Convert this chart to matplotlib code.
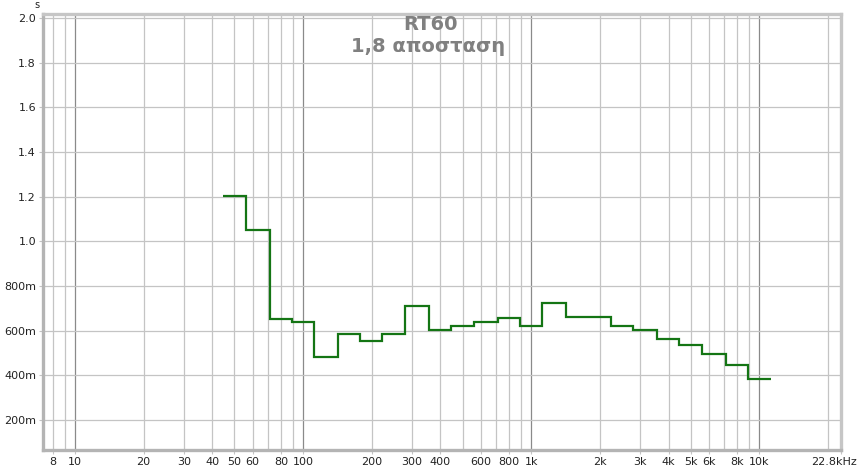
import numpy as np
import matplotlib
matplotlib.use("Agg")
import matplotlib.pyplot as plt
import matplotlib.transforms as mtransforms
from matplotlib.ticker import FixedLocator, NullLocator

# third-octave band centres (Hz) and RT60 values (s)
band_centres = [50, 63, 80, 100, 125, 160, 200, 250, 315, 400, 500, 630,
                800, 1000, 1250, 1600, 2000, 2500, 3150, 4000, 5000, 6300,
                8000, 10000]
rt60 = [1.205, 1.051, 0.652, 0.640, 0.483, 0.586, 0.555, 0.586, 0.712,
        0.603, 0.619, 0.637, 0.657, 0.622, 0.725, 0.663, 0.663, 0.622,
        0.603, 0.563, 0.537, 0.497, 0.448, 0.385]

x_ticks = [8, 10, 20, 30, 40, 50, 60, 80, 100, 200, 300, 400, 600, 800,
           1000, 2000, 3000, 4000, 5000, 6000, 8000, 10000, 22800]
x_tick_labels = ["8", "10", "20", "30", "40", "50", "60", "80", "100",
                 "200", "300", "400", "600", "800", "1k", "2k", "3k", "4k",
                 "5k", "6k", "8k", "10k", "22.8kHz"]

y_ticks = [0.2, 0.4, 0.6, 0.8, 1.0, 1.2, 1.4, 1.6, 1.8, 2.0]
y_tick_labels = ["200m", "400m", "600m", "800m", "1.0", "1.2", "1.4",
                 "1.6", "1.8", "2.0"]

title_lines = ["RT60", "1,8 αποσταση"]

plt.rcParams["font.family"] = ["DejaVu Sans"]

fig = plt.figure(figsize=(8.62, 4.70), dpi=100)
ax = fig.add_axes([43 / 862, 1 - 450 / 470, 798 / 862, 436 / 470])

# band edges for the stair plot
centres = np.asarray(band_centres, dtype=float)
edges = np.append(centres / 2 ** (1 / 6), centres[-1] * 2 ** (1 / 6))

ax.set_xscale("log")
ax.set_xlim(7.24, 22800)
ax.set_ylim(0.0657, 2.018)

# grid: every 1..9 multiple, decades darker
minor_lines = [m * 10 ** d for d in range(0, 5) for m in range(2, 10)]
for f in minor_lines:
    if 7.3 < f < 22700:
        ax.axvline(f, color="#c4c4c4", lw=0.9, zorder=1)
for f in [10, 100, 1000, 10000]:
    ax.axvline(f, color="#8a8a8a", lw=0.9, zorder=1)
for y in y_ticks:
    ax.axhline(y, color="#c4c4c4", lw=0.9, zorder=1)

ax.stairs(rt60, edges, color="#147514", lw=1.6, baseline=None, zorder=3)

ax.xaxis.set_major_locator(FixedLocator(x_ticks))
ax.xaxis.set_minor_locator(NullLocator())
ax.set_xticklabels(x_tick_labels)
ax.set_yticks(y_ticks)
ax.set_yticklabels(y_tick_labels)
ax.tick_params(axis="both", labelsize=8, colors="#222222", length=3,
               width=0.8, pad=2)
ax.tick_params(axis="both", color="#c4c4c4")

# last label sits a little left of its tick so it stays inside the figure
last = ax.get_xticklabels()[-1]
last.set_transform(last.get_transform()
                   + mtransforms.ScaledTranslation(-7 / 100, 0,
                                                   fig.dpi_scale_trans))

for side in ["left", "bottom", "top", "right"]:
    ax.spines[side].set_color("#c6c6c6")
    ax.spines[side].set_linewidth(2.4)
ax.spines["left"].set_color("#b4b4b4")
ax.spines["bottom"].set_color("#b4b4b4")

fig.text(37 / 862, 1 - 5 / 470, "s", ha="center", va="center", fontsize=7,
         color="#222222")

fig.text(431 / 862, 1 - 25 / 470, title_lines[0], ha="center", va="center",
         fontsize=14, fontweight="bold", color="#808080")
fig.text(428 / 862, 1 - 47 / 470, title_lines[1], ha="center", va="center",
         fontsize=14, fontweight="bold", color="#808080")

fig.savefig("out.png", dpi=100)
